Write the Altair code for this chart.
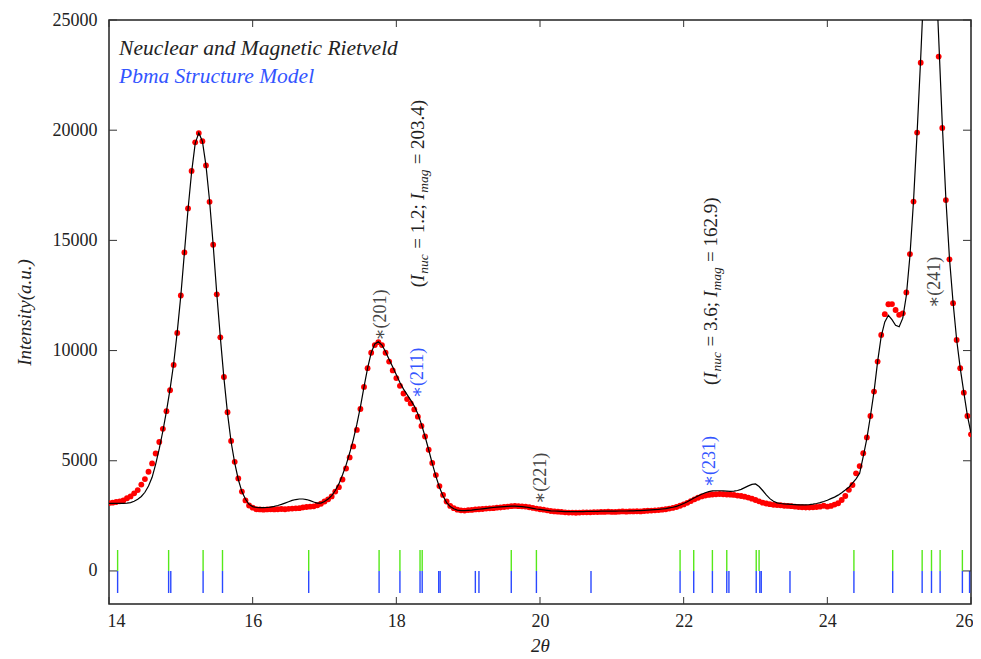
import altair as alt
import pandas as pd

# ---------------- data ----------------
SCAN_START, SCAN_STEP = 14.0, 0.05   # 2theta scan (14 .. 26)

OBS = [
    3080, 3100, 3130, 3160, 3200, 3300, 3380, 3520, 3670, 3920, 4170, 4500, 4880, 5330, 5850, 6450, 7250, 8200, 9350, 10800,
    12500, 14450, 16450, 18150, 19450, 19870, 19500, 18400, 16750, 14800, 12550, 10600, 8800, 7200, 5900, 4950, 4200, 3600, 3200, 2970,
    2870, 2800, 2790, 2780, 2790, 2800, 2790, 2800, 2810, 2800, 2820, 2830, 2840, 2850, 2880, 2900, 2920, 2930, 2980, 3050,
    3150, 3250, 3380, 3600, 3800, 4150, 4650, 5150, 5650, 6400, 7350, 8350, 9200, 9900, 10250, 10380, 10250, 9900, 9500, 9100,
    8750, 8400, 8050, 7800, 7600, 7330, 7000, 6580, 6100, 5500, 4900, 4350, 3850, 3450, 3150, 2950, 2850, 2780, 2750, 2740,
    2760, 2770, 2790, 2800, 2810, 2830, 2840, 2850, 2870, 2880, 2900, 2920, 2940, 2950, 2940, 2930, 2920, 2890, 2860, 2830,
    2800, 2780, 2750, 2720, 2700, 2690, 2680, 2660, 2650, 2650, 2640, 2650, 2660, 2660, 2660, 2670, 2670, 2680, 2680, 2690,
    2680, 2680, 2690, 2700, 2690, 2700, 2700, 2710, 2700, 2720, 2730, 2740, 2750, 2760, 2780, 2800, 2830, 2860, 2900, 2960,
    3020, 3090, 3170, 3250, 3320, 3380, 3420, 3450, 3470, 3480, 3490, 3480, 3470, 3460, 3450, 3420, 3400, 3370, 3330, 3280,
    3220, 3160, 3100, 3060, 3030, 3000, 2990, 2980, 2960, 2950, 2940, 2920, 2900, 2890, 2880, 2880, 2890, 2900, 2920, 2960,
    2920, 2950, 3010, 3070, 3220, 3400, 3680, 3900, 4430, 4760, 5340, 6060, 7030, 8140, 9500, 10710, 11650, 12100, 12110, 11840,
    11620, 11690, 12640, 14380, 16760, 19890, 23060, 26500, 29000, 29500, 27000, 23340, 20100, 16830, 14140, 12150, 10480, 9200, 8090, 7030,
    6200,
]

CALC = [
    3070, 3070, 3070, 3070, 3070, 3080, 3100, 3160, 3250, 3380, 3570, 3850, 4250, 4850, 5550, 6350, 7250, 8250, 9400, 10850,
    12500, 14450, 16400, 18100, 19400, 19880, 19500, 18400, 16800, 14800, 12600, 10600, 8750, 7150, 5850, 4900, 4150, 3600, 3250, 3020,
    2920, 2880, 2870, 2870, 2880, 2900, 2930, 2970, 3020, 3080, 3140, 3200, 3240, 3265, 3265, 3240, 3190, 3130, 3080, 3080,
    3150, 3260, 3420, 3650, 3950, 4350, 4800, 5350, 5950, 6650, 7450, 8350, 9200, 9900, 10300, 10400, 10250, 9950, 9600, 9250,
    8900, 8550, 8250, 8000, 7750, 7480, 7120, 6650, 6100, 5500, 4880, 4300, 3800, 3400, 3100, 2920, 2820, 2760, 2740, 2740,
    2750, 2760, 2780, 2800, 2820, 2840, 2860, 2880, 2900, 2910, 2920, 2930, 2940, 2940, 2930, 2920, 2900, 2870, 2840, 2810,
    2790, 2770, 2750, 2730, 2720, 2710, 2700, 2690, 2690, 2690, 2690, 2690, 2690, 2700, 2700, 2700, 2700, 2710, 2710, 2710,
    2710, 2710, 2720, 2720, 2720, 2730, 2730, 2740, 2740, 2750, 2760, 2770, 2780, 2790, 2810, 2830, 2860, 2890, 2930, 2990,
    3060, 3140, 3230, 3320, 3400, 3480, 3550, 3600, 3630, 3640, 3640, 3630, 3620, 3610, 3620, 3650, 3700, 3780, 3860, 3930,
    3950, 3830, 3650, 3450, 3280, 3160, 3090, 3060, 3040, 3030, 3020, 3010, 3000, 3000, 3000, 3010, 3030, 3060, 3100, 3150,
    3210, 3280, 3350, 3440, 3550, 3670, 3800, 3980, 4180, 4430, 5200, 6000, 7030, 8140, 9500, 10650, 11300, 11600, 11400, 11150,
    11080, 11470, 12500, 14300, 16800, 19900, 23300, 27000, 29500, 30000, 28000, 24200, 20300, 16900, 14200, 12200, 10500, 9200, 8100, 7050,
    6250,
]

TWO_THETA = [round(SCAN_START + SCAN_STEP * i, 2) for i in range(len(OBS))]

# reflection markers (green = nuclear, blue = Pbma)
GREEN_TICKS = [14.12, 14.83, 15.31, 15.58, 16.78, 17.76, 18.05, 18.33, 18.36, 19.60, 19.95,
               21.95, 22.14, 22.40, 22.60, 23.01, 23.05, 24.37, 24.91, 25.32, 25.45, 25.57, 25.88]
BLUE_TICKS = [14.12, 14.83, 14.86, 15.31, 15.58, 16.78, 17.76, 18.05, 18.33, 18.36, 18.59, 18.61,
              19.10, 19.15, 19.60, 19.95, 20.71, 21.95, 22.14, 22.40, 22.60, 22.63, 23.01, 23.06,
              23.08, 23.48, 24.37, 24.91, 25.32, 25.45, 25.57, 25.88, 25.98]

X_TICKS = [14, 16, 18, 20, 22, 24, 26]
Y_TICKS = [0, 5000, 10000, 15000, 20000, 25000]

PEAK_LABELS = ["∗(201)", "∗(211)", "∗(221)", "∗(231)", "∗(241)"]
PEAK_X = [17.785, 18.30, 20.01, 22.37, 25.50]
PEAK_Y = [10450, 7835, 3040, 3800, 11930]
PEAK_COLOR = ["#444444", "#3355ff", "#444444", "#3355ff", "#444444"]

INT_X = [18.385, 22.46]
INT_Y = [12870, 8440]
I_NUC = ["1.2", "3.6"]
I_MAG = ["203.4", "162.9"]

LEGEND_TEXT = ["Neuclear and Magnetic Rietveld", "Pbma Structure Model"]
LEGEND_X = [14.14, 14.14]
LEGEND_Y = [23410, 22130]
LEGEND_COLOR = ["#222222", "#3355ff"]

# ---------------- chart ----------------
W, H = 862, 584
FONT = "Liberation Serif, DejaVu Serif, serif"

xs = alt.Scale(domain=[14, 26], nice=False, zero=False)
ys = alt.Scale(domain=[-1500, 25000], nice=False, zero=False)

prof = pd.DataFrame({"x": TWO_THETA, "obs": OBS, "calc": CALC})

x_axis = alt.Axis(values=X_TICKS, title="2θ", grid=False, ticks=False, domain=False,
                  labelFlush=True, labelFlushOffset=2,
                  labelFont=FONT, labelFontSize=18, labelColor="#222", labelPadding=8,
                  titleFont=FONT, titleFontSize=19, titleFontStyle="italic", titleFontWeight="normal",
                  titleColor="#222", titlePadding=6, format="d")
y_axis = alt.Axis(values=Y_TICKS, title="Intensity(a.u.)", grid=False, ticks=False, domain=False,
                  labelFlush=False,
                  labelFont=FONT, labelFontSize=18, labelColor="#222", labelPadding=12,
                  titleFont=FONT, titleFontSize=19, titleFontStyle="italic", titleFontWeight="normal",
                  titleColor="#222", titlePadding=18, format="d")


def X(field):
    return alt.X(field, scale=xs, axis=x_axis)


def Y(field):
    return alt.Y(field, scale=ys, axis=y_axis)


dots = alt.Chart(prof).mark_circle(size=34, color="#ff0000", opacity=1, clip=True).encode(
    x=X("x:Q"), y=Y("obs:Q"))
line = alt.Chart(prof).mark_line(color="black", strokeWidth=1.2, clip=True).encode(
    x=X("x:Q"), y=Y("calc:Q"))

gdf = pd.DataFrame({"x": GREEN_TICKS, "lo": 0, "hi": 950})
bdf = pd.DataFrame({"x": BLUE_TICKS, "lo": -1000, "hi": 0})
green = alt.Chart(gdf).mark_rule(color="#55e81a", strokeWidth=1.4).encode(
    x=X("x:Q"), y=Y("lo:Q"), y2="hi:Q")
blue = alt.Chart(bdf).mark_rule(color="#2a48ff", strokeWidth=1.4).encode(
    x=X("x:Q"), y=Y("lo:Q"), y2="hi:Q")

# inward ticks on all four sides
xt = pd.DataFrame({"v": X_TICKS})
yt = pd.DataFrame({"v": Y_TICKS})
TC = "#333333"
xt_bottom = alt.Chart(xt).mark_rule(color=TC, strokeWidth=1).encode(
    x=X("v:Q"), y=alt.value(H), y2=alt.value(H - 7))
xt_top = alt.Chart(xt).mark_rule(color=TC, strokeWidth=1).encode(
    x=X("v:Q"), y=alt.value(0), y2=alt.value(7))
yt_left = alt.Chart(yt).mark_rule(color=TC, strokeWidth=1).encode(
    y=Y("v:Q"), x=alt.value(0), x2=alt.value(8))
yt_right = alt.Chart(yt).mark_rule(color=TC, strokeWidth=1).encode(
    y=Y("v:Q"), x=alt.value(W), x2=alt.value(W - 8))

# legend-like text in the top-left corner
ldf = pd.DataFrame({"x": LEGEND_X, "y": LEGEND_Y, "t": LEGEND_TEXT, "c": LEGEND_COLOR})
legend_txt = alt.Chart(ldf).mark_text(align="left", baseline="alphabetic", font=FONT, fontSize=21.5,
                                      fontStyle="italic").encode(
    x=X("x:Q"), y=Y("y:Q"), text="t:N", color=alt.Color("c:N", scale=None))

# peak labels (rotated)
pdf = pd.DataFrame({"x": PEAK_X, "y": PEAK_Y, "t": PEAK_LABELS, "c": PEAK_COLOR})
peak_txt = alt.Chart(pdf).mark_text(angle=270, align="left", baseline="middle", font=FONT,
                                    fontSize=18).encode(
    x=X("x:Q"), y=Y("y:Q"), text="t:N", color=alt.Color("c:N", scale=None))

# intensity annotations built from pieces (for subscripts)
adf = pd.DataFrame({"x": INT_X, "y": INT_Y})
adf["p1"] = "("
adf["p2"] = "I"
adf["p3"] = "nuc"
adf["p4"] = ["= " + v + ";" for v in I_NUC]
adf["p5"] = "I"
adf["p6"] = "mag"
adf["p7"] = ["= " + v + ")" for v in I_MAG]
S = 19 / 18
PIECES = [("p1", 0.0, 0, "normal", 19), ("p2", 6.0 * S, 0, "italic", 19), ("p3", 12.8 * S, 4, "italic", 13.5),
          ("p4", 36.5 * S, 0, "normal", 19), ("p5", 83.0 * S, 0, "italic", 19), ("p6", 89.5 * S, 4, "italic", 13.5),
          ("p7", 116.5 * S, 0, "normal", 19)]
ann_layers = []
for col, dx, dy, style, fs in PIECES:
    ann_layers.append(
        alt.Chart(adf).mark_text(angle=270, align="left", baseline="alphabetic", dx=dx, dy=dy,
                                 font=FONT, fontSize=fs, fontStyle=style, color="#222222").encode(
            x=X("x:Q"), y=Y("y:Q"), text=f"{col}:N")
    )

chart = alt.layer(
    green, blue, dots, line, xt_bottom, xt_top, yt_left, yt_right, legend_txt, peak_txt, *ann_layers
).properties(
    width=W, height=H, background="white",
    padding={"left": 7, "top": 3, "right": 0, "bottom": 0},
).configure_view(stroke="#222222", strokeWidth=1.5)

chart.save("out.html", embed_options={"renderer": "svg", "actions": False})
